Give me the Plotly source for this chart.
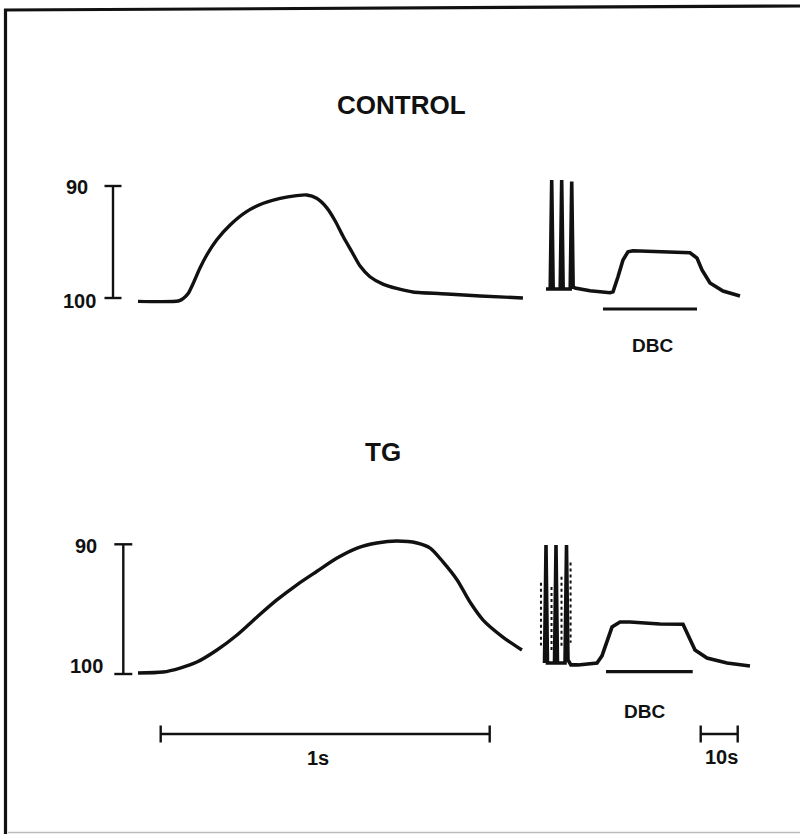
import plotly.graph_objects as go

# ---------------- data ----------------
# fast twitch traces: time (s) and cell length (% of resting, 100 = rest, 90 = 10% shortening)
ctrl_fast_t = [0.0, 0.1225, 0.138, 0.153, 0.168, 0.188, 0.209, 0.239, 0.280, 0.330, 0.381, 0.432,
               0.482, 0.513, 0.543, 0.574, 0.599, 0.624, 0.650, 0.675, 0.705, 0.746, 0.786,
               0.836, 0.939, 1.040, 1.170]
ctrl_fast_v = [100.3, 100.27, 100.03, 99.58, 98.69, 97.35, 96.16, 94.82, 93.48, 92.29, 91.54, 91.1,
               90.86, 90.8, 91.1, 91.95, 93.1, 94.53, 95.87, 97.15, 98.1, 98.78, 99.14,
               99.46, 99.64, 99.82, 100.0]

tg_fast_t = [0.0, 0.076, 0.128, 0.179, 0.240, 0.301, 0.362, 0.422, 0.483, 0.544, 0.605, 0.666,
             0.726, 0.787, 0.848, 0.888, 0.927, 0.970, 1.009, 1.049, 1.109, 1.167]
tg_fast_v = [99.92, 99.85, 99.54, 99.08, 98.15, 96.99, 95.6, 94.29, 93.12, 92.08, 91.06, 90.29,
             89.9, 89.75, 89.9, 90.29, 91.36, 92.75, 94.45, 95.84, 97.15, 98.15]

# slow chart traces (s): three paced twitches, then DBC application
ctrl_slow_t = [-0.54, 0.6, 1.0, 1.4, 3.3, 3.70, 4.1, 6.0, 6.41, 6.8, 7.3, 11.35, 16.76, 17.57,
               18.92, 20.27, 21.62, 22.97, 38.38, 40.27, 41.62, 43.78, 47.30, 51.89]
ctrl_slow_v = [99.2, 99.2, 89.46, 99.2, 99.2, 89.46, 99.2, 99.2, 89.6, 99.0, 99.11, 99.35, 99.53,
               99.44, 98.10, 96.61, 95.87, 95.78, 95.96, 96.43, 97.5, 98.66, 99.38, 99.82]

tg_slow_t = [-0.94, -0.54, -0.14, 1.76, 2.16, 2.56, 4.6, 5.0, 5.4, 6.2, 8.1, 13.24, 14.59,
             15.95, 17.30, 19.46, 22.16, 30.27, 36.49, 37.84, 39.73, 42.97, 48.38, 54.59]
tg_slow_v = [99.15, 90.05, 99.15, 99.15, 90.05, 99.15, 99.15, 90.05, 98.92, 99.3, 99.3, 99.15,
             98.6, 97.38, 96.38, 95.99, 95.99, 96.15, 96.17, 97.0, 98.15, 98.77, 99.15, 99.38]

# faint fast down-strokes of the TG paced twitches (s, % start, % end)
tg_faint_t = [-1.9, 0.95, 3.65, 6.1]
tg_faint_v0 = [92.97, 93.3, 92.5, 91.4]
tg_faint_v1 = [97.8, 98.3, 97.9, 97.6]

# drug application periods (s)
ctrl_dbc = [14.86, 40.27]
tg_dbc = [15.68, 39.11]

# scale bars
y_scale = [90, 100]
fast_bar = [0.069, 1.069]     # 1 s
slow_bar = [41.27, 51.27]     # 10 s

titles = ["CONTROL", "TG"]
tick_labels = ["90", "100"]

# ---------------- pixel calibration (layout) ----------------
W, H = 800, 834
FX0, FPX = 138.0, 329.0       # fast axis: px = FX0 + FPX*t
SX0, SPX = 548.0, 3.7         # slow axis
CY0, CPY = 186.0, 11.2        # control y: px = CY0 + CPY*(v-90)
TY0, TPY = 544.3, 12.97       # TG y

INK = "#111111"
FONT = "Arial, Liberation Sans, Helvetica, sans-serif"

fig = go.Figure()

def trace(x, y, xa, ya, w=3.4, smooth=0.0, dash="solid"):
    ln = dict(color=INK, width=w, dash=dash)
    if smooth:
        ln.update(shape="spline", smoothing=smooth)
    fig.add_trace(go.Scatter(x=x, y=y, xaxis=xa, yaxis=ya, mode="lines", line=ln,
                             hoverinfo="skip", showlegend=False))

# twitch traces
trace(ctrl_fast_t, ctrl_fast_v, "x", "y", 3.4, 0.6)
trace(tg_fast_t, tg_fast_v, "x", "y2", 3.4, 0.8)
trace(ctrl_slow_t, ctrl_slow_v, "x2", "y", 3.6)
trace(tg_slow_t, tg_slow_v, "x2", "y2", 3.6)
for t, a, b in zip(tg_faint_t, tg_faint_v0, tg_faint_v1):
    trace([t, t], [a, b], "x2", "y2", 2.0, dash="dot")

# DBC bars
trace(ctrl_dbc, [100.98, 100.98], "x2", "y", 3.2)
trace(tg_dbc, [99.82, 99.82], "x2", "y2", 3.2)

# vertical % scale bars with caps
def vbar(tc, half, xa, ya):
    trace([tc, tc], y_scale, xa, ya, 2.4)
    for v in y_scale:
        trace([tc - half, tc + half], [v, v], xa, ya, 2.4)

vbar((113 - FX0) / FPX, 8.5 / FPX, "x", "y")
vbar((123.3 - FX0) / FPX, 9 / FPX, "x", "y2")

# horizontal time bars
def hbar(x, ya_v, cap, xa, ya):
    trace(x, [ya_v, ya_v], xa, ya, 2.4)
    for t in x:
        trace([t, t], [ya_v - cap, ya_v + cap], xa, ya, 2.4)

bar_v = 90 + (734 - TY0) / TPY
cap = 8.5 / TPY
hbar(fast_bar, bar_v, cap, "x", "y2")
hbar(slow_bar, bar_v, cap, "x2", "y2")

ax = dict(visible=False, domain=[0, 1], fixedrange=True)
fig.update_layout(
    width=W, height=H, margin=dict(l=0, r=0, t=0, b=0),
    paper_bgcolor="white", plot_bgcolor="rgba(0,0,0,0)", showlegend=False,
    xaxis=dict(ax, range=[(0 - FX0) / FPX, (W - FX0) / FPX], anchor="y"),
    xaxis2=dict(ax, range=[(0 - SX0) / SPX, (W - SX0) / SPX], anchor="y"),
    yaxis=dict(ax, range=[90 + (H - CY0) / CPY, 90 - CY0 / CPY], anchor="x"),
    yaxis2=dict(ax, range=[90 + (H - TY0) / TPY, 90 - TY0 / TPY], anchor="x"),
)

def px(x, y):
    return x / W, 1 - y / H

def text(s, x, y, size, bold=True, xanchor="center"):
    X, Y = px(x, y)
    fig.add_annotation(x=X, y=Y, xref="paper", yref="paper", text=f"<b>{s}</b>" if bold else s,
                       showarrow=False, xanchor=xanchor, yanchor="middle",
                       font=dict(family=FONT, size=size, color=INK))

text(titles[0], 401, 105, 26)
text(titles[1], 383, 452, 26)
text(tick_labels[0], 90, 187, 20, True, "right")
text(tick_labels[1], 98, 301, 20, True, "right")
text(tick_labels[0], 99, 546, 20, True, "right")
text(tick_labels[1], 105, 666, 20, True, "right")
text("DBC", 652, 345, 19)
text("DBC", 644, 711, 19)
text("1s", 318, 758, 20)
text("10s", 721, 757, 20)

# frame of the scanned figure
def pline(x0, y0, x1, y1, w, color=INK):
    X0, Y0 = px(x0, y0)
    X1, Y1 = px(x1, y1)
    fig.add_shape(type="line", xref="paper", yref="paper", x0=X0, y0=Y0, x1=X1, y1=Y1,
                  line=dict(color=color, width=w))

pline(4, 10, 800, 6, 3.2)
pline(5.5, 9, 5.5, 834, 3.2)
pline(8, 832.5, 800, 832.5, 1.5, "#bbbbbb")

fig.write_html("out.html", config={"displayModeBar": False})
